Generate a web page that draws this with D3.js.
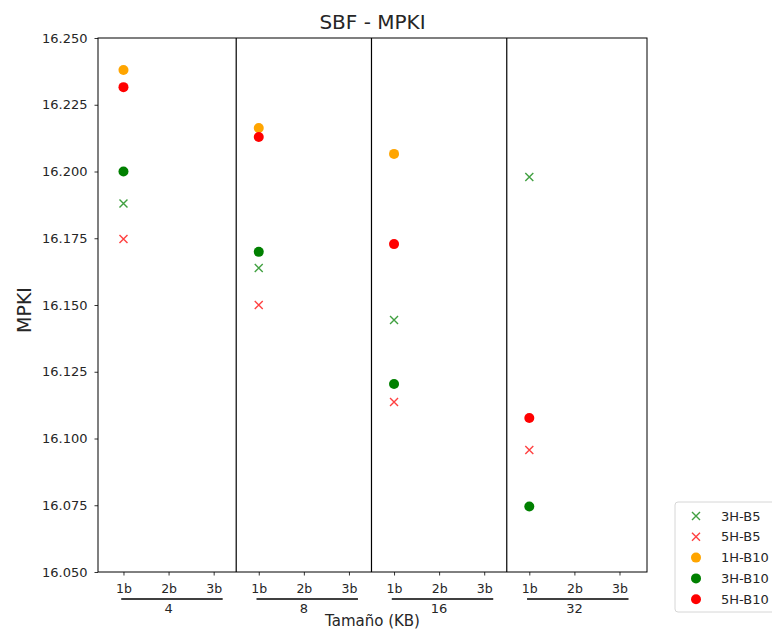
<!DOCTYPE html>
<html>
<head>
<meta charset="utf-8">
<script src="https://cdn.jsdelivr.net/npm/d3@7"></script>
<style>
	body { margin: 0; background: #fff; }
	svg text { font-family: 'DejaVu Sans', sans-serif; fill: #262626; }
</style>
</head>
<body>
<svg id="chart"></svg>
<script>
// data
const groups = ['4', '8', '16', '32'];
const subCats = ['1b', '2b', '3b'];
const seriesNames = ['3H-B5', '5H-B5', '1H-B10', '3H-B10', '5H-B10'];
const seriesColors = ['green', 'red', 'orange', 'green', 'red'];
const seriesShapes = ['x', 'x', 'o', 'o', 'o'];
const s3HB5 = [16.188, 16.1639, 16.1444, 16.1979];
const s5HB5 = [16.1747, 16.150, 16.1137, 16.0957];
const s1HB10 = [16.238, 16.2163, 16.2066, null];
const s3HB10 = [16.200, 16.1699, 16.1204, 16.0745];
const s5HB10 = [16.2316, 16.2129, 16.1728, 16.1077];
const seriesValues = [s3HB5, s5HB5, s1HB10, s3HB10, s5HB10];
const yTicks = [16.050, 16.075, 16.100, 16.125, 16.150, 16.175, 16.200, 16.225, 16.250];

const W = 772, H = 633;
const svg = d3.select('#chart').attr('width', W).attr('height', H);

const plot = { left: 98, right: 647, top: 38, bottom: 572 };

// 12 categorical positions (4 groups x 3 sub categories)
const x = d3.scaleLinear().domain([-0.565, 11.61]).range([plot.left, plot.right]);
const y = d3.scaleLinear().domain([16.050, 16.250]).range([plot.bottom, plot.top]);

// y axis
const yAxis = svg.append('g')
	.attr('transform', `translate(${plot.left},0)`)
	.call(d3.axisLeft(y).tickValues(yTicks).tickFormat(d3.format('.3f')).tickSize(3.5).tickPadding(7));
yAxis.select('.domain').remove();
yAxis.selectAll('text').style('font-size', '13px');
yAxis.selectAll('line').attr('stroke', '#000').attr('stroke-width', 0.8);

// x axis
const positions = d3.range(groups.length * subCats.length);
const xAxis = svg.append('g')
	.attr('transform', `translate(0,${plot.bottom})`)
	.call(d3.axisBottom(x).tickValues(positions).tickFormat(i => subCats[i % 3]).tickSize(3.5).tickPadding(9));
xAxis.select('.domain').remove();
xAxis.selectAll('text').style('font-size', '12.5px');
xAxis.selectAll('line').attr('stroke', '#000').attr('stroke-width', 0.8);

// group underline + labels
const groupG = svg.append('g');
groups.forEach((g, i) => {
	groupG.append('line')
		.attr('x1', x(i * 3 - 0.05)).attr('x2', x(i * 3 + 2.2))
		.attr('y1', 599).attr('y2', 599)
		.attr('stroke', '#000').attr('stroke-width', 1.3);
	groupG.append('text')
		.attr('x', x(i * 3 + 1)).attr('y', 608)
		.attr('text-anchor', 'middle').attr('dominant-baseline', 'central')
		.style('font-size', '13px')
		.text(g);
});

// frame and group separators
svg.append('rect')
	.attr('x', plot.left).attr('y', plot.top)
	.attr('width', plot.right - plot.left).attr('height', plot.bottom - plot.top)
	.attr('fill', 'none').attr('stroke', '#000').attr('stroke-width', 1);
svg.append('g').selectAll('line')
	.data(d3.range(1, groups.length))
	.join('line')
	.attr('x1', d => x(d * 3 - 0.5)).attr('x2', d => x(d * 3 - 0.5))
	.attr('y1', plot.top).attr('y2', plot.bottom)
	.attr('stroke', '#000').attr('stroke-width', 1.2);

// markers
const drawMarker = (sel, shape, color) => {
	if (shape === 'x') {
		sel.append('path')
			.attr('d', 'M-4,-4L4,4M-4,4L4,-4')
			.attr('stroke', color).attr('stroke-width', 1.4)
			.attr('stroke-opacity', 0.75).attr('fill', 'none');
	} else {
		sel.append('circle').attr('r', 5).attr('fill', color);
	}
};

const markG = svg.append('g');
seriesValues.forEach((vals, si) => {
	vals.forEach((v, gi) => {
		if (v === null) return;
		const m = markG.append('g').attr('transform', `translate(${x(gi * 3)},${y(v)})`);
		drawMarker(m, seriesShapes[si], seriesColors[si]);
	});
});

// title and labels
svg.append('text')
	.attr('x', (plot.left + plot.right) / 2).attr('y', 22)
	.attr('text-anchor', 'middle').attr('dominant-baseline', 'central')
	.style('font-size', '20px')
	.text('SBF - MPKI');

svg.append('text')
	.attr('transform', `translate(24,${(plot.top + plot.bottom) / 2 + 5}) rotate(-90)`)
	.attr('text-anchor', 'middle').attr('dominant-baseline', 'central')
	.style('font-size', '19px')
	.text('MPKI');

svg.append('text')
	.attr('x', (plot.left + plot.right) / 2).attr('y', 621)
	.attr('text-anchor', 'middle').attr('dominant-baseline', 'central')
	.style('font-size', '15px')
	.text('Tamaño (KB)');

// legend (runs off the right edge like the original)
const legend = svg.append('g').attr('transform', 'translate(675,502)');
legend.append('rect')
	.attr('width', 110).attr('height', 110).attr('rx', 3)
	.attr('fill', '#fff').attr('stroke', '#d6d6d6').attr('stroke-width', 1);
seriesNames.forEach((name, i) => {
	const row = legend.append('g').attr('transform', `translate(0,${14 + i * 20.8})`);
	const m = row.append('g').attr('transform', 'translate(21,0)');
	drawMarker(m, seriesShapes[i], seriesColors[i]);
	row.append('text')
		.attr('x', 46).attr('y', 0)
		.attr('dominant-baseline', 'central')
		.style('font-size', '13px')
		.text(name);
});
</script>
</body>
</html>
